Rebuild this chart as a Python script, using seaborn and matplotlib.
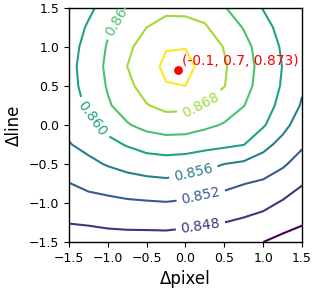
import numpy as np
import seaborn as sns
import matplotlib
matplotlib.use("Agg")
import matplotlib.pyplot as plt

# grid (rows = dline, cols = dpixel)
dpixel = [-1.5, -1.25, -1.0, -0.75, -0.5, -0.25, 0.0, 0.25, 0.5, 0.75, 1.0, 1.25, 1.5]
dline = [-1.5, -1.25, -1.0, -0.75, -0.5, -0.25, 0.0, 0.25, 0.5, 0.75, 1.0, 1.25, 1.5]
score = [
    [0.8462, 0.8464, 0.8464, 0.8463, 0.8464, 0.8464, 0.8461, 0.8459, 0.8454, 0.8451, 0.8440, 0.8430, 0.8424],
    [0.8481, 0.8483, 0.8487, 0.8490, 0.8490, 0.8491, 0.8488, 0.8483, 0.8480, 0.8474, 0.8466, 0.8453, 0.8443],
    [0.8500, 0.8507, 0.8510, 0.8514, 0.8516, 0.8518, 0.8515, 0.8509, 0.8503, 0.8497, 0.8490, 0.8476, 0.8463],
    [0.8519, 0.8529, 0.8536, 0.8543, 0.8548, 0.8551, 0.8545, 0.8537, 0.8530, 0.8521, 0.8514, 0.8501, 0.8482],
    [0.8538, 0.8551, 0.8563, 0.8573, 0.8580, 0.8583, 0.8579, 0.8571, 0.8560, 0.8553, 0.8542, 0.8525, 0.8505],
    [0.8558, 0.8571, 0.8589, 0.8603, 0.8616, 0.8621, 0.8620, 0.8613, 0.8608, 0.8601, 0.8572, 0.8548, 0.8525],
    [0.8569, 0.8589, 0.8613, 0.8637, 0.8652, 0.8660, 0.8658, 0.8648, 0.8637, 0.8620, 0.8604, 0.8572, 0.8540],
    [0.8580, 0.8607, 0.8636, 0.8656, 0.8678, 0.8690, 0.8689, 0.8677, 0.8659, 0.8641, 0.8616, 0.8589, 0.8556],
    [0.8586, 0.8615, 0.8643, 0.8670, 0.8697, 0.8718, 0.8720, 0.8700, 0.8681, 0.8652, 0.8625, 0.8596, 0.8565],
    [0.8588, 0.8618, 0.8647, 0.8680, 0.8706, 0.8727, 0.8729, 0.8710, 0.8684, 0.8656, 0.8627, 0.8599, 0.8571],
    [0.8584, 0.8614, 0.8643, 0.8671, 0.8700, 0.8718, 0.8719, 0.8703, 0.8678, 0.8651, 0.8624, 0.8595, 0.8571],
    [0.8576, 0.8605, 0.8636, 0.8657, 0.8680, 0.8693, 0.8693, 0.8684, 0.8660, 0.8638, 0.8614, 0.8586, 0.8568],
    [0.8567, 0.8591, 0.8618, 0.8643, 0.8668, 0.8671, 0.8670, 0.8665, 0.8642, 0.8622, 0.8598, 0.8580, 0.8563],
]
levels = [0.844, 0.848, 0.852, 0.856, 0.860, 0.864, 0.868, 0.872]
# one spot per labelled level: 0.848, 0.852, 0.856, 0.860, 0.864, 0.868
label_spots = [(0.19, -1.28), (0.19, -0.88), (0.10, -0.60), (-1.20, 0.08), (-0.87, 1.38), (0.20, 0.25)]

peak_x, peak_y, peak_val = -0.1, 0.7, 0.873
ticks = [-1.5, -1.0, -0.5, 0.0, 0.5, 1.0, 1.5]

sns.set_style("ticks")
fig, ax = plt.subplots(figsize=(3.19, 2.92), dpi=100)
fig.subplots_adjust(left=0.216, right=0.947, bottom=0.171, top=0.973)

cmap = sns.color_palette("viridis", as_cmap=True)
cs = ax.contour(dpixel, dline, np.array(score), levels=levels, cmap=cmap, linewidths=1.5)
ax.clabel(cs, fmt="%.3f", fontsize=10, manual=label_spots)

sns.scatterplot(x=[peak_x], y=[peak_y], color="red", s=40, linewidth=0, ax=ax, zorder=3)
ax.annotate(f"({peak_x}, {peak_y}, {peak_val})", (peak_x, peak_y), xytext=(3, 2),
            textcoords="offset points", color="red", fontsize=10, ha="left", va="bottom")

ax.set_xlim(-1.5, 1.5)
ax.set_ylim(-1.5, 1.5)
ax.set_xticks(ticks)
ax.set_yticks(ticks)
ax.tick_params(labelsize=9, color="black", labelcolor="black")
for s in ax.spines.values():
    s.set_color("black")
    s.set_linewidth(1.0)
ax.set_xlabel("Δpixel", fontsize=12, color="black")
ax.set_ylabel("Δline", fontsize=12, color="black")

fig.savefig("out.png", dpi=100)
